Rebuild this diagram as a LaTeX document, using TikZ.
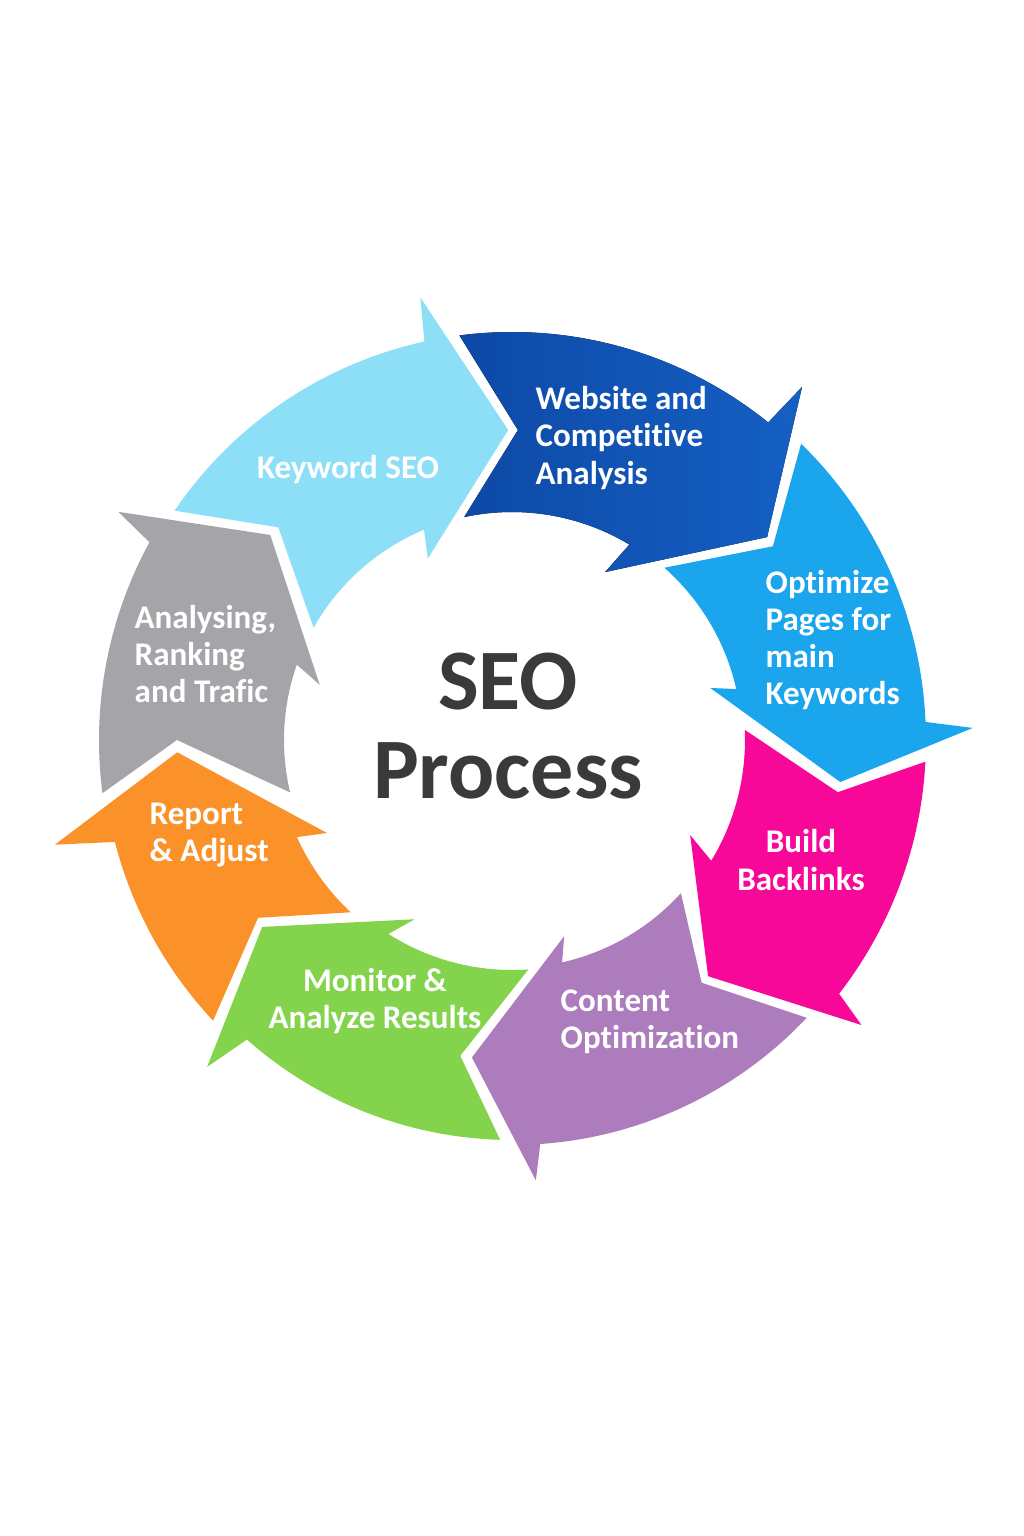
\documentclass[tikz,border=0pt]{standalone}
\usepackage{fontspec}
\setmainfont{Carlito}[Ligatures=NoCommon]

\definecolor{kwblue}{HTML}{8DDFF8}
\definecolor{webdark}{HTML}{0D49A6}
\definecolor{weblight}{HTML}{1560C4}
\definecolor{optblue}{HTML}{1BA5EC}
\definecolor{blpink}{HTML}{F80898}
\definecolor{copurple}{HTML}{AC7CBD}
\definecolor{mogreen}{HTML}{83D44C}
\definecolor{reorange}{HTML}{FB9229}
\definecolor{angray}{HTML}{A5A5A9}
\definecolor{titlegray}{HTML}{3A3A3C}

\begin{document}
\begin{tikzpicture}[x=0.01cm, y=0.01cm,
        segtext/.style={text=white, inner sep=0pt, font=\fontsize{9.4}{10.6}\selectfont\bfseries}]
        \useasboundingbox (-512, -796) rectangle (512, 740);

        % ring of arrows, clockwise from the top left
        \fill [kwblue] (145.8:408) arc[start angle=145.8, end angle=102.4, radius=408]
            -- (101.7:452) -- (90.7:310) -- (114.9:200) -- (112.7:228)
            arc[start angle=112.7, end angle=150.5, radius=228] -- (137.7:316) -- cycle;

        \fill [left color=webdark, right color=weblight] (97.4:408) arc[start angle=97.4, end angle=51.1, radius=408]
            -- (50.6:457) -- (38.5:326) -- (61.0:192) -- (59.0:228)
            arc[start angle=59.0, end angle=102.1, radius=228] -- (88.9:310) -- cycle;

        \fill [optblue] (45.7:414) arc[start angle=45.7, end angle=2.5, radius=414]
            -- (1.5:461) -- (-7.3:331) -- (14.7:205) -- (12.8:230)
            arc[start angle=12.8, end angle=48.5, radius=230] -- (36.6:325) -- cycle;

        \fill [blpink] (-3.0:414) arc[start angle=-3.0, end angle=-37.8, radius=414]
            -- (-39.2:451) -- (-50.3:307) -- (-28.1:202) -- (-31.2:233)
            arc[start angle=-31.2, end angle=2.5, radius=233] -- (-9.1:330) -- cycle;

        \fill [copurple] (-43.3:405) arc[start angle=-43.3, end angle=-86.0, radius=405]
            -- (-86.9:441) -- (-97.2:320) -- (-75.1:203) -- (-77.3:228)
            arc[start angle=-77.3, end angle=-42.2, radius=228] -- (-52.0:308) -- cycle;

        \fill [mogreen] (-91.7:400) arc[start angle=-91.7, end angle=-131.5, radius=400]
            -- (-133.0:447) -- (-143.2:312) -- (-118.5:204) -- (-122.5:230)
            arc[start angle=-122.5, end angle=-85.9, radius=230] -- (-99.3:320) -- cycle;

        \fill [reorange] (-136.8:410) arc[start angle=-136.8, end angle=-165.6, radius=410]
            -- (-167.1:469) -- (-177.9:335) -- (-153.3:207) -- (-155.7:236)
            arc[start angle=-155.7, end angle=-133.1, radius=236] -- (-145.0:310) -- cycle;

        \fill [angray] (187.4:413) arc[start angle=187.4, end angle=151.4, radius=413]
            -- (149.9:455) -- (139.7:317) -- (164.0:200) -- (160.7:228)
            arc[start angle=160.7, end angle=193.3, radius=228] -- (180:335) -- cycle;

        % step labels
        \node [segtext] (keyword) at (-164, 270) {Keyword SEO};
        \node [segtext, anchor=west, align=left] (website) at (23, 302) {Website and\\Competitive\\Analysis};
        \node [segtext, anchor=west, align=left] (optimize) at (253, 100) {Optimize\\Pages for\\main\\Keywords};
        \node [segtext, align=center] (backlinks) at (289, -120) {Build\\Backlinks};
        \node [segtext, anchor=west, align=left] (content) at (48, -282) {Content\\Optimization};
        \node [segtext, align=center] (monitor) at (-137, -261) {Monitor \&\\Analyze Results};
        \node [segtext, anchor=west, align=left] (report) at (-363, -95) {Report\\\& Adjust};
        \node [segtext, anchor=west, align=left] (analysing) at (-378, 86) {Analysing,\\Ranking\\and Trafic};

        \node [text=titlegray, align=center, inner sep=0pt, font=\fontsize{24.5}{25.3}\selectfont\bfseries] (title) at (-4, 14) {SEO\\Process};
    \end{tikzpicture}
\end{document}
